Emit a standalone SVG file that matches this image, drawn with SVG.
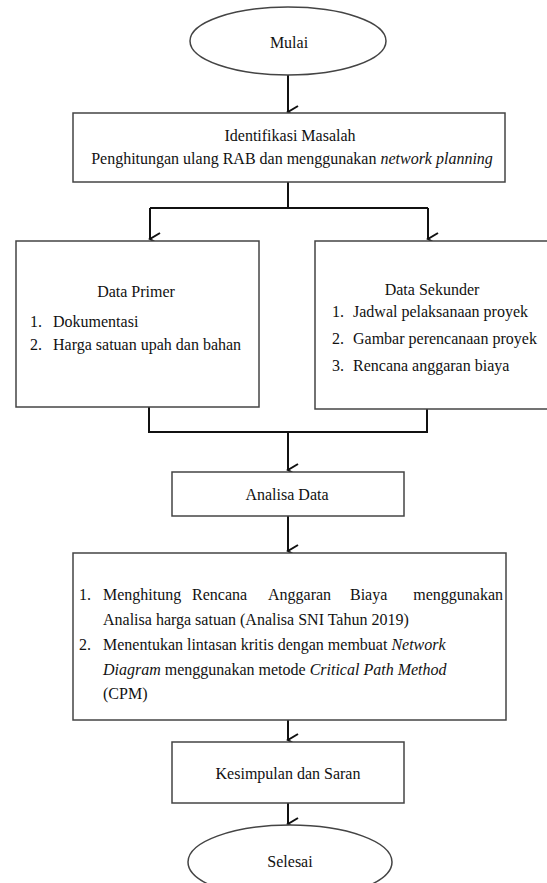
<svg xmlns="http://www.w3.org/2000/svg" width="547" height="883" viewBox="0 0 547 883">
<style>
.box{fill:#fff;stroke:#444;stroke-width:1.5}
.t{font-family:"Liberation Serif","Times New Roman",serif;font-size:16px;fill:#111}
.c{text-anchor:middle}
.e{text-anchor:end}
.i{font-style:italic}
.ln{fill:none;stroke:#111;stroke-width:2}
</style>
<defs>
<marker id="ah" markerWidth="14" markerHeight="14" viewBox="0 0 14 14" refX="7" refY="12" orient="auto" markerUnits="userSpaceOnUse">
<path d="M1,2 L7,12 L13,2" fill="none" stroke="#111" stroke-width="2"/>
</marker>
</defs>
<rect width="547" height="883" fill="#fff"/>
<g id="connectors">
<line class="ln" x1="288" y1="75" x2="288" y2="112" marker-end="url(#ah)"/>
<polyline class="ln" points="288,182 288,208"/>
<polyline class="ln" points="150,208 428,208"/>
<line class="ln" x1="150" y1="208" x2="150" y2="239" marker-end="url(#ah)"/>
<line class="ln" x1="428" y1="208" x2="428" y2="239" marker-end="url(#ah)"/>
<polyline class="ln" points="149,407 149,432 427,432 427,409"/>
<line class="ln" x1="288" y1="432" x2="288" y2="470" marker-end="url(#ah)"/>
<line class="ln" x1="288" y1="516" x2="288" y2="551" marker-end="url(#ah)"/>
<line class="ln" x1="288" y1="720" x2="288" y2="740" marker-end="url(#ah)"/>
<line class="ln" x1="288" y1="803" x2="288" y2="824" marker-end="url(#ah)"/>
</g>
<g id="mulai">
<ellipse class="box" cx="288" cy="41" rx="98" ry="34"/>
<text class="t c" x="289" y="48">Mulai</text>
</g>
<g id="identifikasi">
<rect class="box" x="73" y="113" width="432" height="69"/>
<text class="t c" x="290" y="141">Identifikasi Masalah</text>
<text class="t c" x="292" y="164">Penghitungan ulang RAB dan menggunakan <tspan class="i">network planning</tspan></text>
</g>
<g id="data-primer">
<rect class="box" x="16" y="241" width="243" height="166"/>
<text class="t c" x="136" y="297">Data Primer</text>
<text class="t" x="30" y="327">1.</text>
<text class="t" x="53" y="327">Dokumentasi</text>
<text class="t" x="30" y="350">2.</text>
<text class="t" x="53" y="350">Harga satuan upah dan bahan</text>
</g>
<g id="data-sekunder">
<rect class="box" x="315" y="241" width="235" height="168"/>
<text class="t c" x="432" y="295">Data Sekunder</text>
<text class="t" x="332" y="317">1.</text>
<text class="t" x="353" y="317">Jadwal pelaksanaan proyek</text>
<text class="t" x="332" y="344">2.</text>
<text class="t" x="353" y="344">Gambar perencanaan proyek</text>
<text class="t" x="332" y="371">3.</text>
<text class="t" x="353" y="371">Rencana anggaran biaya</text>
</g>
<g id="analisa-data">
<rect class="box" x="172" y="472" width="232" height="44"/>
<text class="t c" x="287" y="500">Analisa Data</text>
</g>
<g id="metode">
<rect class="box" x="73" y="553" width="433" height="167"/>
<text class="t" x="79" y="600">1.</text>
<text class="t" x="103" y="600">Menghitung</text>
<text class="t" x="192" y="600">Rencana</text>
<text class="t" x="268" y="600">Anggaran</text>
<text class="t" x="350" y="600">Biaya</text>
<text class="t e" x="503" y="600">menggunakan</text>
<text class="t" x="103" y="625">Analisa harga satuan (Analisa SNI Tahun 2019)</text>
<text class="t" x="79" y="650">2.</text>
<text class="t" x="103" y="650">Menentukan lintasan kritis dengan membuat <tspan class="i">Network</tspan></text>
<text class="t" x="103" y="675"><tspan class="i">Diagram</tspan> menggunakan metode <tspan class="i">Critical Path Method</tspan></text>
<text class="t" x="103" y="699">(CPM)</text>
</g>
<g id="kesimpulan">
<rect class="box" x="172" y="742" width="232" height="61"/>
<text class="t c" x="288" y="779">Kesimpulan dan Saran</text>
</g>
<g id="selesai">
<ellipse class="box" cx="290" cy="862" rx="102" ry="37"/>
<text class="t c" x="290" y="867">Selesai</text>
</g>
</svg>
